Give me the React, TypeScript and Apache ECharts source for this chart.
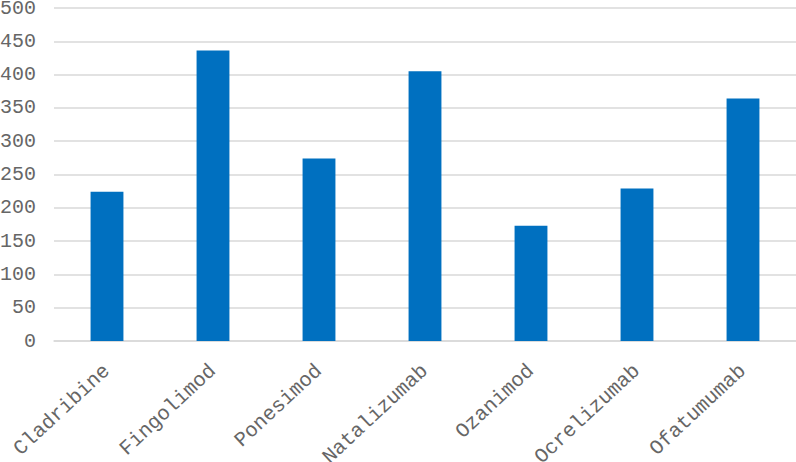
import React, { useEffect, useRef } from "react";
import * as echarts from "echarts";

const categories = ["Cladribine", "Fingolimod", "Ponesimod", "Natalizumab", "Ozanimod", "Ocrelizumab", "Ofatumumab"];
const values = [224, 436, 274, 405, 173, 229, 364];
const yMin = 0;
const yMax = 500;
const yInterval = 50;

export default function App() {
  const ref = useRef<HTMLDivElement>(null);
  useEffect(() => {
    if (!ref.current) return;
    const chart = echarts.init(ref.current, null, { renderer: "svg" });
    const font = "'Liberation Mono', 'Courier New', monospace";
    chart.setOption({
      animation: false,
      grid: { left: 54, right: 0, top: 8, bottom: 121, containLabel: false, outerBoundsMode: "none" },
      xAxis: {
        type: "category",
        data: categories,
        axisLine: { show: true, lineStyle: { color: "#d9d9d9", width: 1.5 } },
        axisTick: { show: false },
        axisLabel: {
          rotate: 43,
          color: "#666666",
          fontFamily: font,
          fontSize: 20.5,
          margin: 27,
          interval: 0,
          hideOverlap: false,
        },
      },
      yAxis: {
        type: "value",
        min: yMin,
        max: yMax,
        interval: yInterval,
        axisLine: { show: false },
        axisTick: { show: false },
        splitLine: { lineStyle: { color: "#d9d9d9", width: 1.5 } },
        axisLabel: {
          color: "#666666",
          fontFamily: font,
          fontSize: 20,
          margin: 18,
        },
      },
      series: [
        {
          type: "bar",
          data: values,
          barWidth: "31%",
          itemStyle: { color: "#0070C0" },
        },
      ],
    });
    return () => chart.dispose();
  }, []);
  return <div ref={ref} style={{ width: 796, height: 462, position: "absolute", left: 0, top: 0 }} />;
}
